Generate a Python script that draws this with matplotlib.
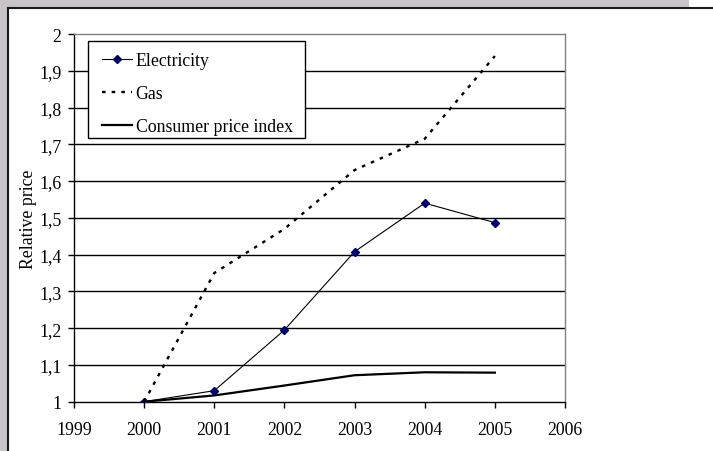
import matplotlib
matplotlib.use("Agg")
import matplotlib.pyplot as plt
from matplotlib.patches import Rectangle
from matplotlib.lines import Line2D

plt.rcParams['font.family'] = ['Liberation Serif', 'DejaVu Serif']
plt.rcParams['font.size'] = 12.75

# precos relativos (base 2000 = 1)
anos = [2000, 2001, 2002, 2003, 2004, 2005]
eletricidade = [1.0, 1.030, 1.195, 1.408, 1.540, 1.487]
gas = [1.0, 1.350, 1.470, 1.630, 1.715, 1.940]
ipc = [1.0, 1.017, 1.044, 1.072, 1.080, 1.079]

ticks_x = [1999, 2000, 2001, 2002, 2003, 2004, 2005, 2006]
ticks_y = [1.0, 1.1, 1.2, 1.3, 1.4, 1.5, 1.6, 1.7, 1.8, 1.9, 2.0]
rotulos_y = ['1', '1,1', '1,2', '1,3', '1,4', '1,5', '1,6', '1,7', '1,8', '1,9', '2']

W, H = 713, 452
fig = plt.figure(figsize=(W / 100, H / 100), dpi=100)
fig.patch.set_facecolor('white')

# moldura cinza (topo e esquerda)
cinza = '#c9c4c9'
fig.patches.append(Rectangle((0, 1 - 8 / H), 689 / W, 8 / H, transform=fig.transFigure,
                             facecolor=cinza, edgecolor='none', zorder=0))
fig.patches.append(Rectangle((0, 0), 7 / W, 1, transform=fig.transFigure,
                             facecolor=cinza, edgecolor='none', zorder=0))
fig.lines.append(Line2D([7.5 / W, 1], [1 - 8.5 / H, 1 - 8.5 / H], transform=fig.transFigure,
                        color='#1a1a1a', lw=1.5))
fig.lines.append(Line2D([7.5 / W, 7.5 / W], [0, 1 - 8.5 / H], transform=fig.transFigure,
                        color='#1a1a1a', lw=1.5))

ax = fig.add_axes([74 / W, 1 - 402.7 / H, 491 / W, 367.7 / H])
ax.set_xlim(1999, 2006)
ax.set_ylim(1, 2)

for v in ticks_y[1:-1]:
    ax.axhline(v, color='black', lw=1.0, zorder=1)

ax.plot(anos, eletricidade, color='black', lw=0.8, marker='D', markersize=3.8,
        markerfacecolor='#000070', markeredgecolor='#000070', label='Electricity', zorder=3)
ax.plot(anos, gas, color='black', lw=1.7, linestyle=(0, (1.5, 2.6)), label='Gas', zorder=3)
ax.plot(anos, ipc, color='black', lw=1.6, label='Consumer price index', zorder=3)

ax.set_xticks(ticks_x)
ax.set_xticklabels([str(a) for a in ticks_x])
ax.set_yticks(ticks_y)
ax.set_yticklabels(rotulos_y)
ax.tick_params(direction='out', length=4.5, width=1, color='black')
ax.tick_params(axis='y', pad=4.5)
ax.tick_params(axis='x', pad=9.5)

ax.spines['left'].set_color('black')
ax.spines['bottom'].set_color('black')
ax.spines['top'].set_color('#808080')
ax.spines['right'].set_color('#808080')
for s in ax.spines.values():
    s.set_linewidth(1.0)

ax.set_ylabel('Relative price', labelpad=1.5)

# caixa da legenda desenhada a parte
caixa = Rectangle((88 / W, 1 - 139 / H), (305 - 88) / W, (139 - 42) / H,
                  transform=fig.transFigure, facecolor='white', edgecolor='black',
                  lw=1.0, zorder=4, clip_on=False)
ax.add_patch(caixa)
leg = ax.legend(loc='upper left', bbox_to_anchor=(102 / W, 1 - 53.5 / H),
                bbox_transform=fig.transFigure, frameon=False,
                handlelength=1.72, handletextpad=0.18, labelspacing=0.9,
                borderpad=0, borderaxespad=0)
leg.set_zorder(5)

fig.savefig('out.png', dpi=100)
